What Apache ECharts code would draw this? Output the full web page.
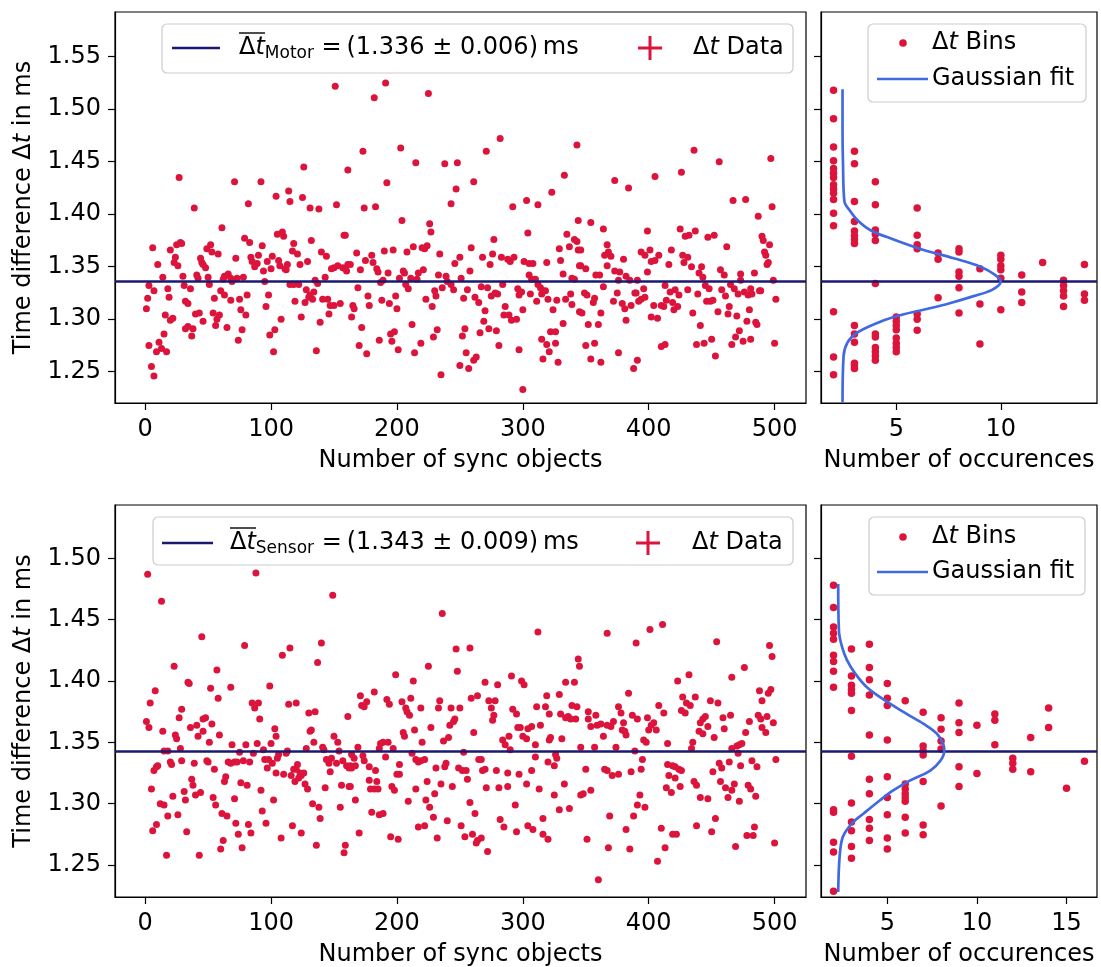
<!DOCTYPE html>
<html lang="en">
<head>
<meta charset="UTF-8">
<title>sync time differences</title>
<script src="https://cdn.jsdelivr.net/npm/echarts@6/dist/echarts.min.js"></script>
<style>
  html, body { margin: 0; padding: 0; background: #fff; }
  #chart { width: 1101px; height: 967px; }
</style>
</head>
<body>
<div id="chart"></div>
<script>
// ---- data ----
var motorMean = 1.336;
var sensorMean = 1.343;

// [sync object index, delta t in ms]
var motorData = [
  [151,1.522],[161,1.442],[126,1.445],[27,1.435],[71,1.431],[92,1.431],[39,1.406],[82,1.410],[104,1.417],[114,1.422],
  [115,1.412],[125,1.416],[131,1.406],[138,1.405],[152,1.409],[61,1.387],[158,1.380],[159,1.380],[105,1.381],[109,1.383],
  [110,1.379],[79,1.377],[83,1.373],[93,1.370],[118,1.372],[132,1.375],[6,1.368],[20,1.366],[25,1.371],[28,1.373],
  [29,1.372],[52,1.371],[49,1.367],[53,1.364],[58,1.362],[117,1.365],[121,1.362],[140,1.364],[144,1.360],[10,1.352],
  [24,1.359],[23,1.354],[26,1.351],[44,1.358],[45,1.354],[46,1.352],[48,1.349],[72,1.358],[84,1.359],[85,1.355],
  [87,1.350],[90,1.361],[89,1.353],[97,1.355],[101,1.360],[100,1.348],[106,1.356],[107,1.351],[111,1.348],[113,1.352],
  [112,1.347],[123,1.352],[129,1.355],[148,1.348],[150,1.349],[153,1.351],[157,1.349],[159,1.348],[161,1.352],[160,1.346],
  [14,1.340],[30,1.341],[41,1.342],[42,1.339],[50,1.340],[63,1.341],[66,1.343],[62,1.338],[68,1.339],[69,1.336],
  [73,1.339],[78,1.340],[94,1.346],[95,1.336],[143,1.340],[135,1.337],[137,1.334],[3,1.332],[7,1.327],[18,1.329],
  [31,1.332],[36,1.329],[51,1.333],[60,1.327],[63,1.323],[55,1.320],[68,1.318],[75,1.319],[81,1.323],[98,1.323],
  [115,1.333],[118,1.333],[122,1.333],[128,1.328],[131,1.323],[134,1.326],[130,1.321],[133,1.319],[141,1.319],[145,1.319],
  [147,1.313],[150,1.313],[155,1.315],[119,1.317],[127,1.316],[2,1.320],[1,1.310],[19,1.321],[32,1.317],[34,1.315],
  [96,1.312],[16,1.304],[22,1.301],[20,1.299],[40,1.305],[43,1.306],[46,1.298],[54,1.306],[59,1.304],[57,1.300],
  [56,1.294],[65,1.292],[76,1.309],[80,1.304],[77,1.290],[74,1.280],[108,1.300],[124,1.302],[146,1.305],[139,1.297],
  [32,1.291],[34,1.293],[38,1.291],[37,1.284],[15,1.286],[11,1.278],[3,1.275],[13,1.272],[9,1.269],[17,1.269],
  [5,1.255],[7,1.246],[99,1.285],[103,1.290],[102,1.269],[136,1.270],
  [191,1.525],[182,1.511],[225,1.515],[282,1.472],[343,1.466],[173,1.460],[203,1.463],[271,1.460],[215,1.449],[238,1.448],
  [248,1.449],[192,1.430],[261,1.431],[333,1.437],[247,1.424],[323,1.421],[243,1.410],[174,1.406],[183,1.407],[292,1.407],
  [303,1.413],[312,1.409],[204,1.394],[226,1.391],[227,1.383],[304,1.382],[344,1.394],[335,1.381],[341,1.376],[343,1.374],
  [277,1.376],[337,1.369],[329,1.367],[344,1.366],[168,1.363],[190,1.365],[197,1.366],[208,1.364],[213,1.369],[220,1.368],
  [222,1.367],[224,1.370],[234,1.362],[259,1.368],[268,1.359],[276,1.362],[274,1.352],[283,1.359],[288,1.357],[290,1.355],
  [293,1.359],[301,1.355],[305,1.353],[308,1.353],[319,1.354],[330,1.356],[345,1.351],[175,1.356],[180,1.361],[181,1.354],
  [163,1.352],[171,1.347],[184,1.348],[185,1.345],[193,1.344],[205,1.346],[206,1.344],[217,1.344],[221,1.347],[246,1.353],
  [250,1.359],[258,1.346],[233,1.342],[239,1.341],[251,1.339],[202,1.339],[211,1.339],[216,1.338],[187,1.335],[189,1.337],
  [207,1.333],[209,1.329],[240,1.336],[243,1.333],[245,1.328],[236,1.330],[230,1.327],[231,1.322],[223,1.319],[228,1.312],
  [169,1.330],[256,1.328],[253,1.320],[262,1.321],[265,1.316],[267,1.331],[272,1.330],[275,1.322],[278,1.325],[280,1.324],
  [284,1.333],[296,1.329],[297,1.323],[299,1.326],[305,1.342],[307,1.338],[310,1.338],[312,1.333],[314,1.330],[316,1.327],
  [318,1.327],[315,1.324],[306,1.324],[320,1.319],[327,1.318],[324,1.309],[311,1.317],[300,1.309],[334,1.319],[338,1.324],
  [339,1.314],[345,1.307],[332,1.343],[339,1.339],[341,1.338],[177,1.322],[178,1.313],[165,1.313],[166,1.310],[164,1.302],
  [188,1.318],[194,1.315],[199,1.322],[200,1.310],[270,1.308],[286,1.312],[285,1.304],[289,1.304],[291,1.299],[295,1.300],
  [269,1.298],[172,1.292],[212,1.295],[195,1.286],[198,1.288],[196,1.279],[186,1.280],[170,1.275],[176,1.267],[201,1.271],
  [219,1.277],[214,1.268],[229,1.283],[232,1.290],[254,1.291],[252,1.284],[266,1.287],[273,1.291],[279,1.289],[281,1.275],
  [255,1.268],[261,1.261],[263,1.264],[250,1.256],[257,1.253],[235,1.247],[297,1.271],[300,1.233],[315,1.281],[319,1.276],
  [321,1.269],[326,1.277],[322,1.288],[326,1.288],[332,1.296],[316,1.262],[328,1.259],
  [436,1.461],[456,1.450],[497,1.453],[426,1.440],[405,1.436],[373,1.432],[384,1.425],[467,1.413],[477,1.414],[498,1.407],
  [487,1.398],[354,1.392],[364,1.386],[399,1.384],[425,1.386],[429,1.379],[432,1.380],[437,1.384],[447,1.378],[452,1.380],
  [462,1.369],[490,1.379],[491,1.375],[496,1.371],[492,1.364],[493,1.361],[495,1.354],[494,1.352],[346,1.366],[367,1.371],
  [368,1.364],[365,1.361],[370,1.360],[380,1.357],[394,1.364],[397,1.361],[401,1.366],[408,1.361],[402,1.355],[405,1.356],
  [418,1.366],[416,1.352],[427,1.361],[431,1.359],[428,1.354],[434,1.350],[442,1.350],[440,1.344],[443,1.340],[457,1.347],
  [460,1.342],[473,1.343],[484,1.344],[346,1.351],[350,1.348],[358,1.342],[361,1.342],[367,1.351],[373,1.346],[377,1.345],
  [382,1.341],[385,1.337],[391,1.337],[376,1.337],[399,1.345],[413,1.332],[445,1.332],[448,1.329],[458,1.328],[465,1.333],
  [468,1.329],[473,1.337],[471,1.324],[476,1.326],[479,1.323],[482,1.324],[481,1.329],[488,1.327],[489,1.327],[499,1.337],
  [501,1.319],[364,1.331],[349,1.325],[351,1.323],[357,1.320],[356,1.316],[375,1.325],[372,1.317],[389,1.325],[390,1.325],
  [396,1.329],[397,1.321],[394,1.319],[392,1.317],[379,1.315],[381,1.310],[386,1.313],[404,1.313],[410,1.313],[412,1.312],
  [414,1.318],[417,1.326],[419,1.316],[421,1.328],[424,1.323],[423,1.312],[420,1.309],[431,1.328],[439,1.324],[446,1.317],
  [451,1.318],[449,1.317],[455,1.307],[461,1.322],[464,1.312],[463,1.305],[470,1.303],[480,1.309],[478,1.298],[485,1.297],
  [486,1.295],[347,1.306],[362,1.306],[352,1.295],[360,1.295],[382,1.299],[402,1.302],[407,1.301],[435,1.306],[441,1.294],
  [472,1.289],[469,1.283],[475,1.279],[481,1.281],[466,1.276],[450,1.281],[444,1.277],[438,1.276],[453,1.265],[410,1.274],
  [413,1.276],[350,1.275],[357,1.277],[354,1.262],[362,1.259],[376,1.268],[391,1.261],[388,1.253],[500,1.277]
];

var sensorData = [
  [2,1.487],[88,1.488],[13,1.465],[149,1.470],[45,1.436],[79,1.429],[140,1.431],[109,1.421],[115,1.427],[137,1.415],
  [23,1.412],[57,1.409],[34,1.399],[35,1.398],[99,1.396],[8,1.392],[52,1.394],[68,1.395],[58,1.386],[4,1.382],
  [85,1.382],[90,1.382],[87,1.378],[114,1.381],[120,1.382],[91,1.369],[29,1.377],[130,1.374],[135,1.375],[27,1.370],
  [1,1.367],[3,1.362],[36,1.362],[41,1.364],[46,1.369],[48,1.370],[53,1.365],[46,1.359],[42,1.355],[14,1.359],
  [24,1.356],[25,1.353],[59,1.356],[51,1.350],[103,1.361],[104,1.355],[100,1.349],[132,1.360],[131,1.359],[134,1.350],
  [150,1.355],[153,1.350],[161,1.371],[69,1.348],[80,1.348],[89,1.349],[75,1.342],[86,1.341],[94,1.344],[128,1.345],
  [141,1.346],[142,1.344],[154,1.343],[15,1.343],[18,1.343],[28,1.345],[113,1.343],[112,1.341],[106,1.340],[95,1.336],
  [98,1.336],[101,1.333],[105,1.337],[29,1.335],[20,1.334],[21,1.332],[39,1.333],[49,1.335],[50,1.334],[66,1.334],
  [68,1.333],[71,1.334],[73,1.334],[78,1.335],[83,1.334],[144,1.336],[146,1.333],[148,1.337],[152,1.333],[157,1.335],
  [160,1.331],[10,1.331],[9,1.330],[7,1.327],[55,1.328],[97,1.329],[104,1.325],[110,1.324],[116,1.323],[118,1.328],
  [121,1.332],[120,1.328],[123,1.325],[126,1.325],[124,1.323],[122,1.321],[119,1.318],[127,1.316],[129,1.312],[147,1.326],
  [162,1.329],[37,1.320],[38,1.315],[64,1.322],[63,1.318],[76,1.317],[81,1.315],[5,1.312],[31,1.310],[40,1.307],
  [44,1.309],[92,1.311],[143,1.313],[156,1.315],[162,1.314],[22,1.306],[12,1.300],[15,1.299],[32,1.303],[54,1.305],
  [56,1.299],[71,1.304],[102,1.303],[133,1.300],[138,1.297],[139,1.288],[155,1.297],[18,1.290],[26,1.291],[61,1.292],
  [65,1.290],[93,1.294],[72,1.284],[82,1.283],[96,1.284],[117,1.282],[9,1.283],[6,1.278],[33,1.277],[74,1.275],
  [84,1.276],[124,1.276],[108,1.272],[62,1.270],[60,1.263],[77,1.264],[17,1.258],[43,1.258],[136,1.266],[159,1.266],
  [158,1.260],
  [236,1.455],[312,1.440],[247,1.426],[258,1.427],[248,1.408],[225,1.412],[199,1.405],[213,1.400],[291,1.404],[299,1.400],
  [301,1.397],[270,1.399],[280,1.397],[344,1.418],[345,1.412],[334,1.399],[341,1.399],[182,1.391],[171,1.388],[192,1.385],
  [194,1.381],[204,1.383],[211,1.386],[207,1.378],[208,1.375],[210,1.372],[172,1.380],[176,1.383],[174,1.379],[219,1.378],
  [234,1.384],[233,1.378],[243,1.378],[250,1.378],[259,1.386],[264,1.388],[273,1.384],[278,1.384],[275,1.378],[277,1.372],
  [276,1.368],[292,1.377],[295,1.373],[311,1.379],[318,1.379],[319,1.388],[321,1.373],[329,1.389],[330,1.373],[334,1.370],
  [336,1.371],[339,1.380],[343,1.379],[338,1.369],[342,1.369],[246,1.369],[245,1.367],[242,1.364],[227,1.362],[214,1.360],
  [205,1.358],[206,1.355],[220,1.350],[261,1.358],[296,1.362],[298,1.362],[304,1.361],[307,1.363],[314,1.364],[300,1.355],
  [303,1.353],[310,1.348],[289,1.355],[284,1.352],[286,1.348],[290,1.344],[322,1.354],[321,1.352],[331,1.353],[241,1.354],
  [237,1.351],[193,1.350],[189,1.350],[187,1.349],[197,1.345],[169,1.346],[186,1.345],[253,1.342],[212,1.341],[191,1.338],
  [164,1.340],[166,1.337],[173,1.339],[174,1.335],[163,1.331],[167,1.331],[164,1.329],[178,1.330],[183,1.327],[215,1.336],
  [217,1.334],[219,1.335],[222,1.336],[231,1.329],[238,1.330],[239,1.333],[249,1.329],[252,1.327],[255,1.327],[265,1.336],
  [267,1.336],[268,1.327],[270,1.328],[279,1.327],[288,1.325],[297,1.324],[307,1.327],[310,1.338],[320,1.334],[326,1.340],
  [327,1.337],[325,1.331],[202,1.332],[202,1.324],[200,1.324],[178,1.319],[184,1.318],[179,1.312],[182,1.312],[185,1.312],
  [163,1.314],[196,1.314],[198,1.311],[224,1.318],[215,1.312],[235,1.316],[244,1.314],[256,1.320],[271,1.313],[281,1.313],
  [288,1.314],[303,1.316],[313,1.312],[333,1.316],[346,1.307],[167,1.303],[209,1.302],[223,1.303],[230,1.308],[226,1.297],
  [258,1.301],[294,1.299],[325,1.307],[329,1.295],[337,1.296],[180,1.293],[186,1.291],[189,1.292],[229,1.289],[262,1.292],
  [240,1.286],[282,1.287],[316,1.288],[217,1.281],[222,1.282],[251,1.282],[285,1.281],[295,1.277],[304,1.282],[308,1.279],
  [316,1.275],[170,1.276],[195,1.273],[201,1.271],[232,1.272],[254,1.273],[260,1.275],[264,1.270],[267,1.272],[263,1.268],
  [320,1.271],[272,1.261],
  [411,1.446],[401,1.442],[367,1.439],[390,1.431],[454,1.432],[496,1.429],[498,1.420],[476,1.411],[432,1.405],[466,1.403],
  [423,1.400],[384,1.390],[488,1.392],[497,1.393],[495,1.390],[490,1.384],[427,1.387],[437,1.387],[430,1.382],[433,1.380],
  [426,1.376],[429,1.374],[449,1.384],[455,1.382],[408,1.380],[412,1.374],[376,1.379],[378,1.374],[352,1.375],[358,1.372],
  [352,1.369],[354,1.363],[359,1.364],[362,1.365],[367,1.364],[372,1.367],[370,1.363],[380,1.366],[379,1.360],[381,1.359],
  [382,1.356],[387,1.372],[391,1.369],[399,1.370],[404,1.366],[402,1.364],[400,1.360],[406,1.360],[396,1.352],[398,1.350],
  [415,1.349],[441,1.366],[443,1.369],[445,1.371],[447,1.363],[443,1.357],[440,1.359],[452,1.354],[435,1.350],[434,1.345],
  [459,1.370],[465,1.372],[460,1.361],[480,1.367],[477,1.358],[487,1.372],[489,1.369],[494,1.371],[499,1.366],[490,1.362],
  [493,1.358],[474,1.349],[472,1.348],[470,1.347],[471,1.341],[466,1.345],[364,1.355],[374,1.346],[346,1.346],[357,1.346],
  [389,1.343],[395,1.336],[350,1.328],[365,1.328],[367,1.327],[371,1.323],[376,1.324],[386,1.326],[394,1.328],[415,1.332],
  [419,1.331],[421,1.330],[424,1.328],[426,1.327],[416,1.323],[421,1.321],[425,1.314],[456,1.333],[458,1.329],[464,1.334],
  [451,1.326],[473,1.331],[482,1.335],[486,1.330],[501,1.336],[457,1.318],[461,1.313],[468,1.316],[466,1.311],[463,1.305],
  [472,1.302],[479,1.315],[481,1.312],[485,1.306],[436,1.318],[438,1.315],[441,1.305],[447,1.304],[414,1.313],[418,1.309],
  [393,1.307],[391,1.299],[397,1.297],[388,1.290],[348,1.308],[354,1.311],[369,1.290],[351,1.271],[368,1.264],[382,1.279],
  [385,1.263],[360,1.238],[410,1.280],[413,1.264],[407,1.253],[419,1.275],[422,1.275],[438,1.282],[450,1.277],[453,1.288],
  [469,1.265],[478,1.274],[483,1.274],[484,1.281],[500,1.268]
];

// histogram bins: [number of occurences, bin centre in ms]
var motorBins = [
  [2,1.518],[2,1.491],[2,1.464],[2,1.451],[2,1.4435],[2,1.439],[2,1.435],[2,1.428],[2,1.424],[2,1.420],[2,1.414],[2,1.401],
  [2,1.389],[2,1.307],[2,1.264],[2,1.247],
  [3,1.460],[3,1.448],[3,1.412],[3,1.393],[3,1.384],[3,1.3795],[3,1.3757],[3,1.372],[3,1.294],[3,1.286],[3,1.278],[3,1.258],
  [3,1.256],[3,1.253],
  [4,1.431],[4,1.409],[4,1.385],[4,1.381],[4,1.375],[4,1.334],[4,1.286],[4,1.283],[4,1.273],[4,1.269],[4,1.265],[4,1.261],
  [5,1.302],[5,1.298],[5,1.294],[5,1.290],[5,1.282],[5,1.277],[5,1.273],[5,1.269],
  [6,1.406],[6,1.380],[6,1.371],[6,1.367],[6,1.305],[6,1.300],[6,1.2895],
  [7,1.363],[7,1.357],[7,1.3205],
  [8,1.367],[8,1.364],[8,1.345],[8,1.341],[8,1.330],[8,1.306],
  [9,1.348],[9,1.3145],[9,1.2765],
  [10,1.361],[10,1.357],[10,1.351],[10,1.347],[10,1.339],[10,1.309],
  [11,1.342],[11,1.326],[11,1.316],
  [12,1.354],
  [13,1.337],[13,1.332],[13,1.327],[13,1.322],[13,1.312],
  [14,1.352],[14,1.324],[14,1.318]
];

var sensorBins = [
  [2,1.478],[2,1.460],[2,1.444],[2,1.439],[2,1.434],[2,1.421],[2,1.416],[2,1.408],[2,1.395],[2,1.295],[2,1.293],[2,1.2685],
  [2,1.2606],[2,1.2285],
  [3,1.426],[3,1.404],[3,1.3965],[3,1.393],[3,1.390],[3,1.376],[3,1.3386],[3,1.3005],[3,1.285],[3,1.278],[3,1.265],[3,1.2554],
  [4,1.430],[4,1.411],[4,1.401],[4,1.3886],[4,1.356],[4,1.320],[4,1.308],[4,1.287],[4,1.280],[4,1.270],
  [5,1.398],[5,1.386],[5,1.380],[5,1.352],[5,1.322],[5,1.305],[5,1.291],[5,1.272],[5,1.263],
  [6,1.384],[6,1.316],[6,1.312],[6,1.308],[6,1.305],[6,1.302],[6,1.289],[6,1.276],
  [7,1.3745],[7,1.347],[7,1.343],[7,1.3397],[7,1.318],[7,1.2826],[7,1.2747],
  [8,1.370],[8,1.3606],[8,1.351],[8,1.3446],[8,1.298],
  [9,1.382],[9,1.366],[9,1.358],[9,1.330],[9,1.314],
  [10,1.364],[10,1.3245],
  [11,1.373],[11,1.368],[11,1.348],
  [12,1.337],[12,1.333],[12,1.328],
  [13,1.354],[13,1.326],
  [14,1.378],[14,1.362],
  [15,1.3125],
  [16,1.3345]
];

// gaussian fit curves: [count, delta t]
var motorFit = [
  [2.43,1.519],[2.43,1.480],[2.45,1.450],[2.52,1.412],[2.76,1.404],[3.11,1.395],[3.75,1.385],[4.87,1.376],[6.31,1.366],
  [7.75,1.358],[9.03,1.350],[9.74,1.342],[10.0,1.336],[9.58,1.328],[8.7,1.322],[7.6,1.3155],[6.3,1.309],[5.03,1.303],
  [3.91,1.295],[3.11,1.287],[2.67,1.278],[2.48,1.265],[2.43,1.221]
];
var sensorFit = [
  [2.26,1.479],[2.30,1.441],[2.47,1.428],[2.75,1.417],[3.21,1.406],[3.86,1.395],[4.89,1.384],[6.10,1.373],[7.03,1.365],
  [7.77,1.357],[8.11,1.349],[8.18,1.343],[7.96,1.335],[7.40,1.327],[6.28,1.319],[5.35,1.311],[4.61,1.303],[3.68,1.292],
  [3.03,1.284],[2.52,1.273],[2.34,1.257],[2.26,1.228]
];

// tick labels
var xTicksScatter = [0, 100, 200, 300, 400, 500];
var xTicksMotorHist = [5, 10];
var xTicksSensorHist = [5, 10, 15];
var yTicksMotor = [1.25, 1.30, 1.35, 1.40, 1.45, 1.50, 1.55];
var yTicksSensor = [1.25, 1.30, 1.35, 1.40, 1.45, 1.50];

// ---- styling ----
var FONT = 'DejaVu Sans';
var RED = '#DC143C';
var NAVY = '#191970';
var BLUE = '#4169E1';

var RICH = {
  n: {fontSize: 24, fontFamily: FONT, color: '#000', fill: '#000', lineHeight: 28},
  i: {fontSize: 24, fontFamily: FONT, fontStyle: 'italic', color: '#000', fill: '#000', lineHeight: 28},
  s: {fontSize: 17, fontFamily: FONT, color: '#000', fill: '#000', verticalAlign: 'bottom', lineHeight: 16}
};

function makeAxis(grid, min, max, ticks, opt) {
  return {
    type: 'value', gridIndex: grid, min: min, max: max,
    splitLine: {show: false},
    axisLine: {show: true, onZero: false, lineStyle: {color: '#000', width: 1.2}},
    axisTick: {show: true, inside: false, length: 7, lineStyle: {color: '#000', width: 1.2}, customValues: ticks},
    axisLabel: {
      show: opt.labels !== false, customValues: ticks, formatter: opt.fmt,
      fontSize: 24, fontFamily: FONT, color: '#000', margin: opt.margin
    },
    name: opt.name || '', nameLocation: 'middle', nameGap: opt.nameGap || 0,
    nameTextStyle: {fontSize: 24, fontFamily: FONT, color: '#000', rich: RICH}
  };
}
function fmtInt(v) { return String(Math.round(v)); }
function fmt2(v) { return v.toFixed(2); }

function meanLine(v) {
  return {
    silent: true, symbol: ['none', 'none'], label: {show: false}, precision: 4,
    lineStyle: {color: NAVY, width: 2.5, type: 'solid'},
    emphasis: {disabled: true}, animation: false,
    data: [{yAxis: v}]
  };
}

function dots(xi, data, withMean, size) {
  var s = {
    type: 'scatter', xAxisIndex: xi, yAxisIndex: xi, data: data,
    symbol: 'circle', symbolSize: size || 7, itemStyle: {color: RED, opacity: 1}, z: 2
  };
  if (withMean !== undefined) s.markLine = meanLine(withMean);
  return s;
}
function fit(xi, data) {
  return {
    type: 'line', xAxisIndex: xi, yAxisIndex: xi, data: data, symbol: 'none',
    smooth: 0.35, lineStyle: {color: BLUE, width: 2.7}, z: 6
  };
}

// legend pieces (graphic)
function box(x, y, w, h) {
  return {type: 'rect', z: 100, shape: {x: x, y: y, width: w, height: h, r: 5},
    style: {fill: 'rgba(255,255,255,0.8)', stroke: '#cccccc', lineWidth: 1.2}};
}
function seg(x1, y1, x2, y2, color, w) {
  return {type: 'line', z: 101, shape: {x1: x1, y1: y1, x2: x2, y2: y2}, style: {stroke: color, lineWidth: w}};
}
function txt(x, y, t) {
  return {type: 'text', z: 101, x: x, y: y,
    style: {text: t, fontSize: 24, fontFamily: FONT, fill: '#000', align: 'left', verticalAlign: 'middle', rich: RICH}};
}
function dot(x, y) {
  return {type: 'circle', z: 101, shape: {cx: x, cy: y, r: 3.8}, style: {fill: RED}};
}
function cross(x, y) {
  return [seg(x - 12, y, x + 12, y, RED, 3), seg(x, y - 12, x, y + 12, RED, 3)];
}

var graphics = [].concat(
  // top left
  box(162, 24, 631, 49),
  seg(172, 48, 220, 48, NAVY, 2.5),
  txt(239, 48, '{n|Δ}{i|t}{s|Motor}{n| =\u2009(1.336 ± 0.006)\u2009ms}'),
  seg(239, 33, 265, 33, '#000', 1.4),
  cross(650, 48),
  txt(693, 48, '{n|Δ}{i|t}{n| Data}'),
  // top right
  box(868, 24, 218, 78),
  dot(903, 43),
  txt(932, 43, '{n|Δ}{i|t}{n| Bins}'),
  seg(877, 79, 928, 79, BLUE, 2.7),
  txt(932, 79, '{n|Gaussian fit}'),
  // bottom left
  box(153, 517, 640, 48),
  seg(162, 543, 213, 543, NAVY, 2.5),
  txt(230, 543, '{n|Δ}{i|t}{s|Sensor}{n| =\u2009(1.343 ± 0.009)\u2009ms}'),
  seg(230, 528, 256, 528, '#000', 1.4),
  cross(648, 543),
  txt(692, 543, '{n|Δ}{i|t}{n| Data}'),
  // bottom right
  box(869, 517, 216, 78),
  dot(903, 537),
  txt(932, 537, '{n|Δ}{i|t}{n| Bins}'),
  seg(877, 572, 928, 572, BLUE, 2.7),
  txt(932, 572, '{n|Gaussian fit}')
);

var gridBase = {show: true, borderColor: '#000', borderWidth: 1.2, containLabel: false, outerBoundsMode: 'none'};
function g(l, t, w, h) { return Object.assign({left: l, top: t, width: w, height: h}, gridBase); }

var option = {
  animation: false,
  backgroundColor: '#fff',
  grid: [g(115, 12, 691, 391), g(821, 12, 276, 391), g(115, 505, 691, 392), g(821, 505, 276, 392)],
  xAxis: [
    makeAxis(0, -23.95, 524.95, xTicksScatter, {fmt: fmtInt, margin: 15, name: 'Number of sync objects', nameGap: 46}),
    makeAxis(1, 1.4, 14.6, xTicksMotorHist, {fmt: fmtInt, margin: 15, name: 'Number of occurences', nameGap: 46}),
    makeAxis(2, -23.95, 524.95, xTicksScatter, {fmt: fmtInt, margin: 15, name: 'Number of sync objects', nameGap: 46}),
    makeAxis(3, 1.3, 16.7, xTicksSensorHist, {fmt: fmtInt, margin: 15, name: 'Number of occurences', nameGap: 46})
  ],
  yAxis: [
    makeAxis(0, 1.2202, 1.5926, yTicksMotor, {fmt: fmt2, margin: 14, name: 'Time difference Δ{i|t} in ms', nameGap: 77}),
    makeAxis(1, 1.2202, 1.5926, yTicksMotor, {labels: false}),
    makeAxis(2, 1.2239, 1.5435, yTicksSensor, {fmt: fmt2, margin: 14, name: 'Time difference Δ{i|t} in ms', nameGap: 77}),
    makeAxis(3, 1.2239, 1.5435, yTicksSensor, {labels: false})
  ],
  series: [
    dots(0, motorData, motorMean),
    dots(1, motorBins, motorMean, 7.5),
    fit(1, motorFit),
    dots(2, sensorData, sensorMean),
    dots(3, sensorBins, sensorMean, 7.5),
    fit(3, sensorFit)
  ],
  graphic: graphics
};

var chart = echarts.init(document.getElementById('chart'));
chart.setOption(option);
</script>
</body>
</html>
